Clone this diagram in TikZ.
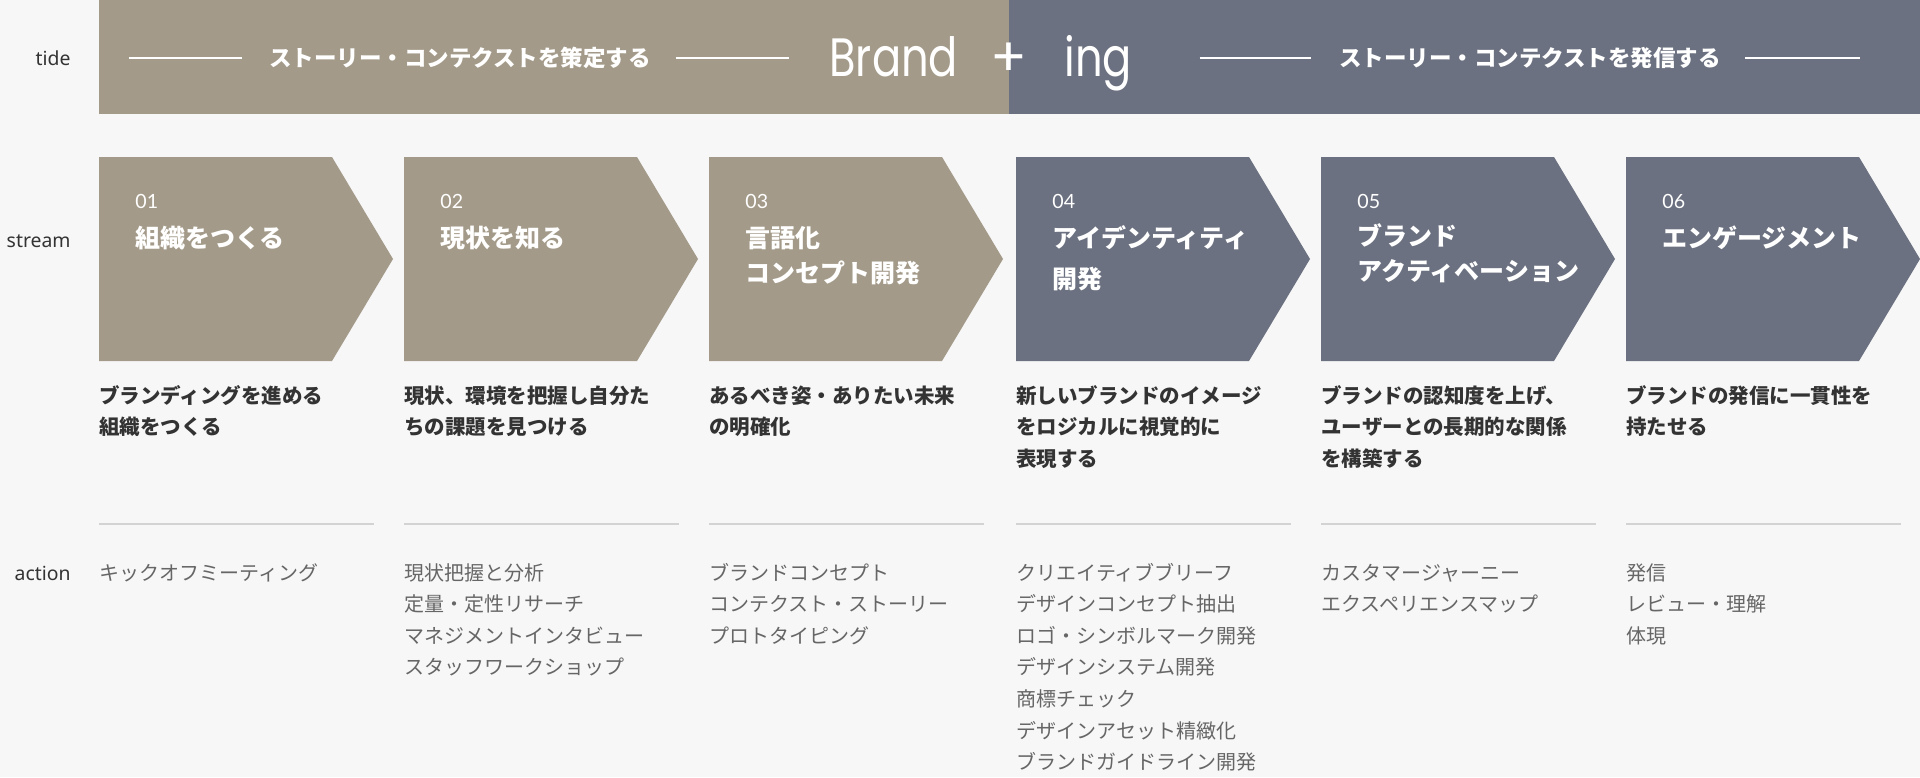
\documentclass[tikz,border=0pt]{standalone}
\usepackage{fontspec}
\setmainfont{Noto Sans}
\newfontfamily\jp{Noto Sans CJK JP}
\newfontfamily\lat{Noto Sans}
\newfontfamily\geo{Poppins}
\newfontfamily\numf{Lato}
\definecolor{brn}{HTML}{A49A89}
\definecolor{slate}{HTML}{6B7180}
\definecolor{bg}{HTML}{F7F7F7}
\definecolor{ink}{HTML}{333333}
\definecolor{act}{HTML}{666666}
\definecolor{sepc}{HTML}{D3D3D3}
\begin{document}
\begin{tikzpicture}[x=0.5pt,y=-0.5pt,
  lab/.style={anchor=base east, font=\lat\fontsize{9.7}{11}\selectfont, text=ink, inner sep=0},
  tidetxt/.style={anchor=base, font=\jp\bfseries\fontsize{11.25}{13}\selectfont, text=white, inner sep=0},
  numtxt/.style={anchor=base west, font=\numf\fontsize{9.8}{11}\selectfont, text=white, inner sep=0},
  ttl/.style={anchor=base west, font=\jp\bfseries\fontsize{12.5}{15}\selectfont, text=white, inner sep=0},
  desc/.style={anchor=base west, font=\jp\bfseries\fontsize{10.25}{12}\selectfont, text=ink, inner sep=0},
  actn/.style={anchor=base west, font=\jp\fontsize{10}{12}\selectfont, text=act, inner sep=0},
  sepline/.style={draw=sepc, line width=1pt},
  tideline/.style={draw=white, line width=1pt},
  brandtxt/.style={font=\geo\fontsize{27}{30}\selectfont, text=white, inner sep=0}]
\useasboundingbox (0,0) rectangle (1920,777);
\fill[bg] (0,0) rectangle (1920,777);
% tide band
\fill[brn] (99,0) rectangle (1009,114);
\fill[slate] (1009,0) rectangle (1920,114);
\coordinate (l1a) at (129,58); \coordinate (l1b) at (241.5,58);
\coordinate (l2a) at (676,58); \coordinate (l2b) at (789,58);
\coordinate (l3a) at (1199.5,58); \coordinate (l3b) at (1311,58);
\coordinate (l4a) at (1745,58); \coordinate (l4b) at (1860,58);
\draw[tideline] (l1a) -- (l1b);
\draw[tideline] (l2a) -- (l2b);
\draw[tideline] (l3a) -- (l3b);
\draw[tideline] (l4a) -- (l4b);
\node[tidetxt] (tide1) at (460,66) {ストーリー・コンテクストを策定する};
\node[tidetxt] (tide2) at (1530,66) {ストーリー・コンテクストを発信する};
\node[brandtxt, anchor=base west] (brand) at (829,76) {\scalebox{0.8}[1]{Brand}};
\node[brandtxt, anchor=center] (plus) at (1009,60) {+};
\node[brandtxt, anchor=base west] (ing) at (1064,76) {\scalebox{0.8}[1]{ing}};
% row labels
\node[lab] (ltide) at (71,65) {tide};
\node[lab] (lstream) at (71,247) {stream};
\node[lab] (laction) at (71,580) {action};
% chevrons
\foreach \x/\c/\n in {99/brn/01,404/brn/02,709/brn/03,1016/slate/04,1321/slate/05,1626/slate/06}{
  \fill[\c] (\x,157) -- ++(233,0) -- ++(61,102) -- ++(-61,102) -- ++(-233,0) -- cycle;
  \node[numtxt] (num\n) at (\x+36,208) {\n};
}
% titles
\node[ttl] (t1a) at (135,247.5) {組織をつくる};
\node[ttl] (t2a) at (440,247.5) {現状を知る};
\node[ttl] (t3a) at (745,247.5) {言語化};
\node[ttl] (t3b) at (745,282.5) {コンセプト開発};
\node[ttl] (t4a) at (1052,247.5) {アイデンティティ};
\node[ttl] (t4b) at (1052,288.5) {開発};
\node[ttl] (t5a) at (1357,245.5) {ブランド};
\node[ttl] (t5b) at (1357,280.5) {アクティベーション};
\node[ttl] (t6a) at (1662,247.5) {エンゲージメント};
% descriptions, separators, actions
\foreach \x/\dl/\al [count=\c] in {
  99/{ブランディングを進める,組織をつくる}/{キックオフミーティング},
  404/{現状、環境を把握し自分た,ちの課題を見つける}/{現状把握と分析,定量・定性リサーチ,マネジメントインタビュー,スタッフワークショップ},
  709/{あるべき姿・ありたい未来,の明確化}/{ブランドコンセプト,コンテクスト・ストーリー,プロトタイピング},
  1016/{新しいブランドのイメージ,をロジカルに視覚的に,表現する}/{クリエイティブブリーフ,デザインコンセプト抽出,ロゴ・シンボルマーク開発,デザインシステム開発,商標チェック,デザインアセット精緻化,ブランドガイドライン開発},
  1321/{ブランドの認知度を上げ、,ユーザーとの長期的な関係,を構築する}/{カスタマージャーニー,エクスペリエンスマップ},
  1626/{ブランドの発信に一貫性を,持たせる}/{発信,レビュー・理解,体現}}{
  \foreach \t [count=\i] in \dl {
    \node[desc] (d\c-\i) at (\x,403+31.5*\i-31.5) {\t};
  }
  \coordinate (s\c a) at (\x,524);
  \coordinate (s\c b) at (\x+275,524);
  \draw[sepline] (s\c a) -- (s\c b);
  \foreach \t [count=\i] in \al {
    \node[actn] (a\c-\i) at (\x,580+31.6*\i-31.6) {\t};
  }
}
\end{tikzpicture}
\end{document}
